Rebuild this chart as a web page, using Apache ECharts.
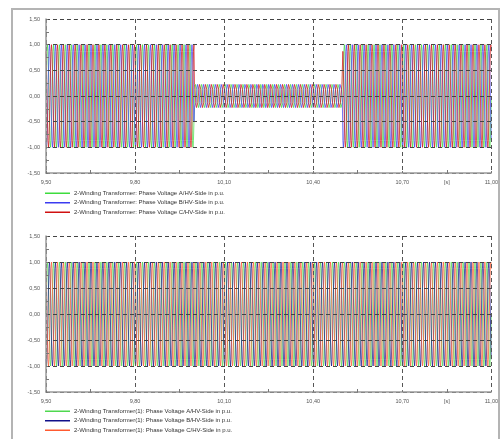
<!DOCTYPE html>
<html>
<head>
<meta charset="utf-8">
<script src="https://cdn.jsdelivr.net/npm/echarts@6/dist/echarts.min.js"></script>
<style>
  html, body { margin: 0; padding: 0; background: #fff; }
  #chart { width: 501px; height: 439px; }
</style>
</head>
<body>
<div id="chart"></div>
<script>
// time window of both plots [s]
const timeStart = 9.5;
const timeEnd = 11.0;
const xTickLabels = ["9,50", "9,80", "10,10", "10,40", "10,70", "11,00"];
const yTickLabels = ["-1,50", "-1,00", "-0,50", "0,00", "0,50", "1,00", "1,50"];

// one 50 Hz period of a phase voltage, sampled every 30 deg (p.u. of peak)
const cyclePeriod = 0.02;
const cycleSamples = [0, 0.5, 0.87, 1, 0.87, 0.5, 0, -0.5, -0.87, -1, -0.87, -0.5];
// phase lag of B and C in samples (120 / 240 deg)
const phaseLag = [0, 4, 8];

// envelope of the voltage: [start time, peak amplitude]
const topEnvelope = [[9.5, 1.0], [10.0, 0.26], [10.5, 1.0]];
const bottomEnvelope = [[9.5, 1.0]];

const topNames = [
  "2-Winding Transformer: Phase Voltage A/HV-Side in p.u.",
  "2-Winding Transformer: Phase Voltage B/HV-Side in p.u.",
  "2-Winding Transformer: Phase Voltage C/HV-Side in p.u."
];
const bottomNames = [
  "2-Winding Transformer(1): Phase Voltage A/HV-Side in p.u.",
  "2-Winding Transformer(1): Phase Voltage B/HV-Side in p.u.",
  "2-Winding Transformer(1): Phase Voltage C/HV-Side in p.u."
];
const topColors = ["#3ddc3d", "#3b3bf0", "#d01010"];
const bottomColors = ["#4fd84f", "#10108a", "#ff5a30"];

// build the sampled waveform from the recorded cycle and the envelope
function buildPhase(envelope, lag) {
  const n = cycleSamples.length;
  const dt = cyclePeriod / n;
  const total = Math.round((timeEnd - timeStart) / dt);
  const pts = [];
  for (let i = 0; i <= total; i++) {
    const t = timeStart + i * dt;
    let amp = envelope[0][1];
    envelope.forEach(e => { if (t >= e[0] - 1e-9) amp = e[1]; });
    const v = cycleSamples[(i + n - lag) % n] * amp;
    pts.push([i * dt, v]); // x stored relative to timeStart
  }
  return pts;
}

const fmt = v => v.toFixed(2).replace(".", ",");
const FONT = "Liberation Sans";

function xAxisPair(gridIndex) {
  return [{
    type: "value", gridIndex: gridIndex, min: 0, max: timeEnd - timeStart, interval: 0.3,
    z: 5,
    axisLine: { onZero: false, lineStyle: { color: "#9a9a9a", width: 1.5 } },
    axisTick: { show: true, inside: true, length: 2, lineStyle: { color: "#777" } },
    minorTick: { show: true, splitNumber: 2, length: 3, lineStyle: { color: "#777" } },
    axisLabel: {
      margin: 6, fontSize: 5.5, fontFamily: FONT, color: "#555",
      formatter: v => xTickLabels[Math.round(v / 0.3)] || ""
    },
    splitLine: { show: true, lineStyle: { color: "#555", type: [4, 3], width: 1 } }
  }, {
    // second axis only carries the unit label at 10,85
    type: "value", gridIndex: gridIndex, min: 0, max: timeEnd - timeStart, interval: 0.15,
    position: "bottom",
    axisLine: { show: false, onZero: false }, axisTick: { show: false }, splitLine: { show: false },
    axisLabel: {
      margin: 6, fontSize: 5.5, fontFamily: FONT, color: "#555",
      formatter: v => Math.abs(v - 1.35) < 1e-6 ? "[s]" : ""
    }
  }];
}

function yAxis(gridIndex) {
  return {
    type: "value", gridIndex: gridIndex, min: -1.5, max: 1.5, interval: 0.5,
    z: 5,
    axisLine: { show: true, onZero: false, lineStyle: { color: "#9a9a9a", width: 1.5 } },
    axisTick: { show: true, inside: true, length: 2, lineStyle: { color: "#777" } },
    minorTick: { show: true, splitNumber: 2, length: 3, lineStyle: { color: "#777" } },
    axisLabel: {
      margin: 6, fontSize: 5.5, fontFamily: FONT, color: "#555",
      formatter: v => yTickLabels[Math.round((v + 1.5) / 0.5)] || fmt(v)
    },
    splitLine: { show: true, lineStyle: { color: "#444", type: [4, 3], width: 1 } }
  };
}

function phaseSeries(names, colors, envelope, axisOffset) {
  return names.map((name, k) => ({
    name: name, type: "line",
    xAxisIndex: axisOffset * 2, yAxisIndex: axisOffset,
    data: buildPhase(envelope, phaseLag[k]),
    showSymbol: false, symbol: "none", sampling: null,
    lineStyle: { color: colors[k], width: 1, opacity: 0.7 },
    itemStyle: { color: colors[k] },
    emphasis: { disabled: true },
    z: 2
  }));
}

function legendItems(names, thick) {
  return names.map((n, k) => k === thick
    ? { name: n, itemStyle: { borderWidth: 0.8 } }
    : { name: n });
}

function legend(names, thick, top) {
  return {
    data: legendItems(names, thick),
    orient: "vertical", left: 45, top: top, padding: 0, height: 60,
    icon: "rect", itemWidth: 25, itemHeight: 1.5, itemGap: 3,
    selectedMode: false,
    textStyle: { fontSize: 6, color: "#333", lineHeight: 6.5, padding: [0, 0, 0, -1] }
  };
}

const chart = echarts.init(document.getElementById("chart"), null, { renderer: "canvas" });

chart.setOption({
  animation: false,
  backgroundColor: "#ffffff",
  textStyle: { fontFamily: FONT },
  grid: [
    { left: 46, right: 9, top: 19, height: 154 },
    { left: 46, right: 9, top: 236, height: 156 }
  ],
  xAxis: [...xAxisPair(0), ...xAxisPair(1)],
  yAxis: [yAxis(0), yAxis(1)],
  legend: [legend(topNames, 2, 190), legend(bottomNames, 1, 408)],
  graphic: [{
    type: "rect", silent: true, z: 100,
    shape: { x: 12, y: 9, width: 487, height: 440 },
    style: { fill: null, stroke: "#b4b4b4", lineWidth: 2 }
  }],
  series: [
    ...phaseSeries(topNames, topColors, topEnvelope, 0),
    ...phaseSeries(bottomNames, bottomColors, bottomEnvelope, 1)
  ]
});
</script>
</body>
</html>
